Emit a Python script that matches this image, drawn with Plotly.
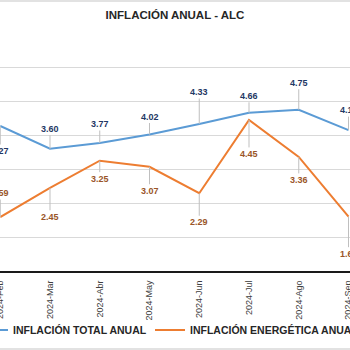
import plotly.graph_objects as go

months = ["2024-Feb", "2024-Mar", "2024-Abr", "2024-May", "2024-Jun", "2024-Jul", "2024-Ago", "2024-Sep"]
total = [4.27, 3.60, 3.77, 4.02, 4.33, 4.66, 4.75, 4.15]
energia = [1.59, 2.45, 3.25, 3.07, 2.29, 4.45, 3.36, 1.60]

# label offsets in pixels (positive = below point)
total_off = [25, -20, -19, -18, -32, -17, -27, -20]
energia_off = [-24, 29, 18, 24, 29, 34, 23, 37]

FONT = "Arial, Liberation Sans, sans-serif"
BLUE = "#5B9BD5"
ORANGE = "#ED7D31"
BLUE_LBL = "#1F3864"
ORANGE_LBL = "#9A5528"

fig = go.Figure()
fig.add_trace(go.Scatter(x=months, y=total, mode="lines", name="INFLACIÓN TOTAL ANUAL",
                         line=dict(color=BLUE, width=2), legend="legend", showlegend=True))
fig.add_trace(go.Scatter(x=months, y=energia, mode="lines", name="INFLACIÓN ENERGÉTICA ANUAL",
                         line=dict(color=ORANGE, width=2), legend="legend2", showlegend=True))

anns = []
for m, v, o in zip(months, total, total_off):
    anns.append(dict(x=m, y=v, text=f"<b>{v:.2f}</b>", showarrow=True, arrowhead=0,
                     arrowwidth=1, arrowcolor="#BFBFBF", ax=0, ay=o,
                     font=dict(family=FONT, size=9, color=BLUE_LBL)))
for m, v, o in zip(months, energia, energia_off):
    anns.append(dict(x=m, y=v, text=f"<b>{v:.2f}</b>", showarrow=True, arrowhead=0,
                     arrowwidth=1, arrowcolor="#BFBFBF", ax=0, ay=o,
                     font=dict(family=FONT, size=9, color=ORANGE_LBL)))

leg_common = dict(orientation="h", xanchor="left", y=-0.248, yanchor="middle",
                  font=dict(family=FONT, size=10.5, color="#262626", weight="bold"),
                  bgcolor="rgba(0,0,0,0)", itemwidth=30)

fig.update_layout(
    width=350, height=350,
    showlegend=True,
    margin=dict(l=0, r=0, t=33, b=79, autoexpand=False),
    paper_bgcolor="white", plot_bgcolor="white",
    font=dict(family=FONT, color="#404040"),
    title=dict(text="<b>INFLACIÓN ANUAL - ALC</b>", x=0.5, xanchor="center",
               y=1 - 15 / 350, yanchor="middle",
               font=dict(family=FONT, size=11.5, color="#262626")),
    xaxis=dict(type="category", range=[-0.005, 7.03], showgrid=False,
               showline=True, linecolor="#1a1a1a", linewidth=2,
               tickangle=-90, tickfont=dict(family=FONT, size=9, color="#404040"),
               automargin=False, ticks="", ticklabelstandoff=4),
    yaxis=dict(range=[0, 7.01], dtick=1, showgrid=True, gridcolor="#D9D9D9", gridwidth=1,
               zeroline=False, showticklabels=False, automargin=False),
    legend=dict(x=-27 / 350, **leg_common),
    legend2=dict(x=150 / 350, **leg_common),
    annotations=anns,
    shapes=[dict(type="rect", xref="paper", yref="paper", x0=-0.05, x1=1.05,
                 y0=-(349 - 271) / 238, y1=1 + 32 / 238,
                 line=dict(color="#D9D9D9", width=1.5), layer="above")],
)

fig.write_html("out.html")
